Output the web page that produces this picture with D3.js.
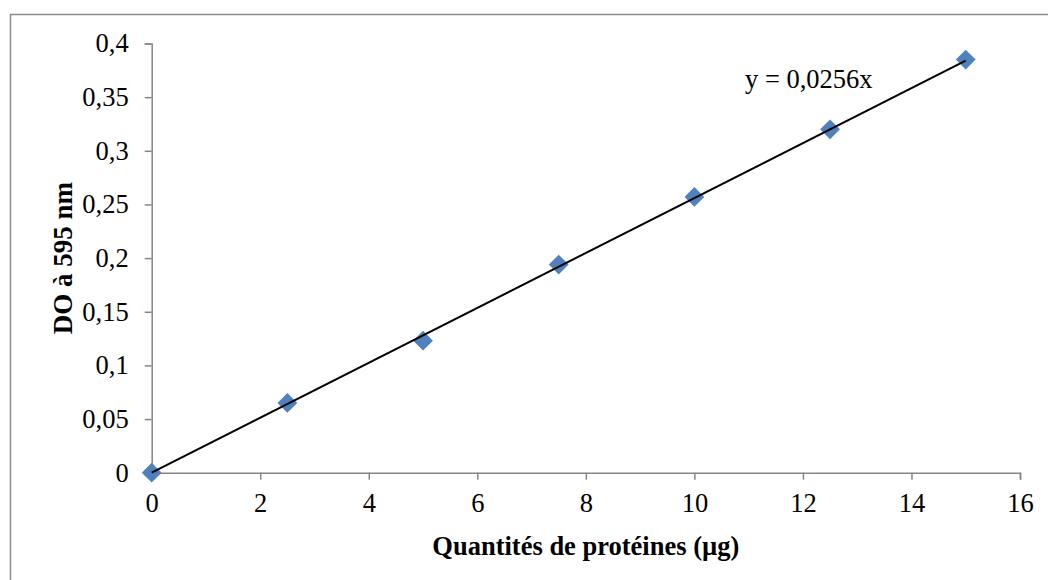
<!DOCTYPE html>
<html><head><meta charset="utf-8">
<script src="https://cdn.jsdelivr.net/npm/d3@7"></script>
<style>body{margin:0;background:#fff}svg{display:block}</style>
</head><body>
<script>
const quantities = [0, 2.5, 5, 7.5, 10, 12.5, 15];
const absorbances = [0, 0.065, 0.123, 0.194, 0.257, 0.32, 0.385];
const xTicks = [0, 2, 4, 6, 8, 10, 12, 14, 16];
const yTicks = [0, 0.05, 0.1, 0.15, 0.2, 0.25, 0.3, 0.35, 0.4];
const slope = 0.0256;
const equationLabel = "y = 0,0256x";
const xTitle = "Quantités de protéines (µg)";
const yTitle = "DO à 595 nm";

const W = 1048, H = 580;
const svg = d3.select("body").append("svg").attr("width", W).attr("height", H);
const font = "'Liberation Serif','Times New Roman',serif";

svg.append("rect").attr("x", 10.5).attr("y", 14.5).attr("width", W + 10).attr("height", H + 10)
  .attr("fill", "none").attr("stroke", "#8c8c8c").attr("stroke-width", 1.5);

const x = d3.scaleLinear().domain([0, 16]).range([151.7, 1020]);
const y = d3.scaleLinear().domain([0, 0.4]).range([472.7, 43.5]);
const fmt = d => String(d).replace(".", ",");

const xAxis = svg.append("g").attr("transform", `translate(0,${y(0)})`)
  .call(d3.axisBottom(x).tickValues(xTicks).tickSize(7).tickPadding(13).tickFormat(fmt));
const yAxis = svg.append("g").attr("transform", `translate(${x(0)},0)`)
  .call(d3.axisLeft(y).tickValues(yTicks).tickSize(7).tickPadding(16).tickFormat(fmt));
[xAxis, yAxis].forEach(g => {
  g.select(".domain").attr("stroke", "#868686").attr("stroke-width", 1.5);
  g.selectAll(".tick line").attr("stroke", "#868686").attr("stroke-width", 1.5);
  g.selectAll("text").attr("font-family", font).attr("font-size", 26.5).attr("fill", "#000");
});

svg.append("g").selectAll("path").data(quantities).join("path")
  .attr("transform", (d, i) => `translate(${x(d)},${y(absorbances[i])}) rotate(45)`)
  .attr("d", "M-7,-7L7,-7L7,7L-7,7Z")
  .attr("fill", "#4f81bd");

svg.append("line")
  .attr("x1", x(0)).attr("y1", y(0))
  .attr("x2", x(15)).attr("y2", y(slope * 15))
  .attr("stroke", "#000").attr("stroke-width", 2);

svg.append("text").attr("x", 745).attr("y", 88)
  .attr("font-family", font).attr("font-size", 26.5).text(equationLabel);

svg.append("text").attr("x", (x(0) + x(16)) / 2).attr("y", 555)
  .attr("text-anchor", "middle").attr("font-family", font).attr("font-weight", "bold")
  .attr("font-size", 26.5).text(xTitle);

svg.append("text").attr("transform", `translate(72,${(y(0) + y(0.4)) / 2}) rotate(-90)`)
  .attr("text-anchor", "middle").attr("font-family", font).attr("font-weight", "bold")
  .attr("font-size", 27).text(yTitle);
</script>
</body></html>
